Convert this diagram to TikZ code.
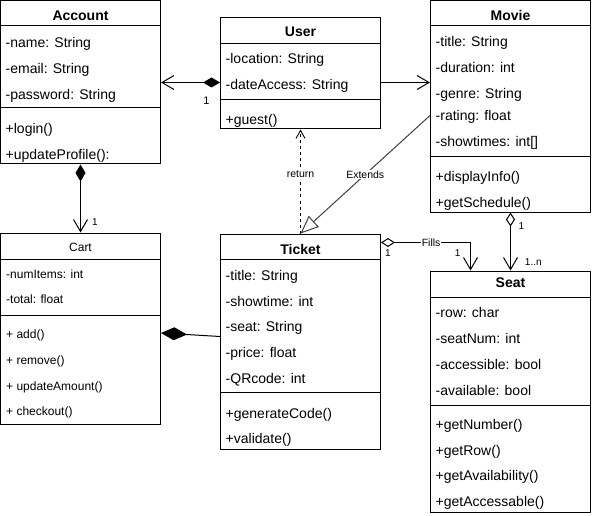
\documentclass[tikz,border=0pt]{standalone}
\usepackage{fontspec}
\setmainfont{Liberation Sans}
\usetikzlibrary{arrows.meta, positioning}
\tikzset{
  % Class styles
  classbox/.style={rectangle, draw=black, line width=1pt, fill=white, minimum width=160pt, inner sep=0pt},
  classname/.style={font=\fontsize{14}{16}\selectfont\bfseries, anchor=base, inner sep=0pt},
  member/.style={font=\fontsize{14}{16}\selectfont, anchor=base west, inner sep=0pt},
  cartname/.style={font=\fontsize{12}{14}\selectfont, anchor=base, inner sep=0pt},
  cartmember/.style={font=\fontsize{12}{14}\selectfont, anchor=base west, inner sep=0pt},
  divider/.style={line width=1pt},
  % Connector styles
  assoc/.style={line width=1pt, -{Straight Barb[length=12pt, width=14pt]}},
  composition/.style={line width=1pt, {Diamond[length=17pt, width=10pt]}-{Straight Barb[length=12pt, width=14pt]}},
  bigcomposition/.style={line width=1pt, {Diamond[length=26pt, width=13pt]}-},
  aggregation/.style={line width=1pt, {Diamond[length=14pt, width=9pt, fill=white]}-{Straight Barb[length=12pt, width=14pt]}},
  generalization/.style={line width=1pt, -{Triangle[length=18pt, width=15pt, fill=white]}},
  dependency/.style={line width=0.9pt, dash pattern=on 3pt off 3pt, -{Straight Barb[length=8pt, width=9pt]}},
  % Label styles
  mult/.style={font=\fontsize{10}{12}\selectfont, inner sep=0pt},
  edgelabel/.style={font=\fontsize{10.5}{12}\selectfont, fill=white, inner sep=1pt}
}
\begin{document}
\begin{tikzpicture}[x=1pt, y=-1pt]
  \useasboundingbox (0,0) rectangle (592,516);

  % Account
  \node[classbox, minimum height=163] (account) at (80.5,82.5) {};
  \node[classname] (accounttitle) at (80.5,21) {Account};
  \draw[divider] (account.west |- 0,26) -- (account.east |- 0,26);
  \draw[divider] (account.west |- 0,108) -- (account.east |- 0,108);
  \foreach \txt/\yy [count=\i] in {-name: String/47.3, -email: String/73.3, -password: String/99.3, +login()/133.3, +updateProfile():/159.3}
    \node[member] (account-\i) at (5.5,\yy) {\txt};

  % User
  \node[classbox, minimum height=111.5] (user) at (300.5,73.25) {};
  \node[classname] (usertitle) at (300.5,36.7) {User};
  \draw[divider] (user.west |- 0,43.3) -- (user.east |- 0,43.3);
  \draw[divider] (user.west |- 0,99.3) -- (user.east |- 0,99.3);
  \foreach \txt/\yy [count=\i] in {-location: String/63.3, -dateAccess: String/89.3, +guest()/125}
    \node[member] (user-\i) at (225.5,\yy) {\txt};

  % Movie
  \node[classbox, minimum height=211] (movie) at (510.5,106.5) {};
  \node[classname] (movietitle) at (510.5,20.7) {Movie};
  \draw[divider] (movie.west |- 0,26) -- (movie.east |- 0,26);
  \draw[divider] (movie.west |- 0,156.7) -- (movie.east |- 0,156.7);
  \foreach \txt/\yy [count=\i] in {-title: String/46.7, -duration: int/72.7, -genre: String/99, -rating: float/120.7, -showtimes: int[]/146.7, +displayInfo()/181.7, +getSchedule()/207.3}
    \node[member] (movie-\i) at (435.5,\yy) {\txt};

  % Cart
  \node[classbox, minimum height=191] (cart) at (80.5,328.5) {};
  \node[cartname] (carttitle) at (80.5,251.7) {Cart};
  \draw[divider] (cart.west |- 0,259) -- (cart.east |- 0,259);
  \draw[divider] (cart.west |- 0,315) -- (cart.east |- 0,315);
  \foreach \txt/\yy [count=\i] in {-numItems: int/278.3, -total: float/303.3, + add()/338.3, + remove()/364, + updateAmount()/390, + checkout()/415.7}
    \node[cartmember] (cart-\i) at (6,\yy) {\txt};

  % Ticket
  \node[classbox, minimum height=215] (ticket) at (300.5,341.5) {};
  \node[classname] (tickettitle) at (300.5,254.3) {Ticket};
  \draw[divider] (ticket.west |- 0,259) -- (ticket.east |- 0,259);
  \draw[divider] (ticket.west |- 0,392.7) -- (ticket.east |- 0,392.7);
  \foreach \txt/\yy [count=\i] in {-title: String/280, -showtime: int/306, -seat: String/331.7, -price: float/357.7, -QRcode: int/383.7, +generateCode()/418.3, +validate()/443.3}
    \node[member] (ticket-\i) at (225.5,\yy) {\txt};

  % Seat
  \node[classbox, minimum height=241] (seat) at (510.5,391.5) {};
  \node[classname] (seattitle) at (510.5,287.3) {Seat};
  \draw[divider] (seat.west |- 0,297.3) -- (seat.east |- 0,297.3);
  \draw[divider] (seat.west |- 0,405) -- (seat.east |- 0,405);
  \foreach \txt/\yy [count=\i] in {-row: char/317.3, -seatNum: int/343.3, -accessible: bool/369, -available: bool/395, +getNumber()/429, +getRow()/455, +getAvailability()/480.7, +getAccessable()/506.7}
    \node[member] (seat-\i) at (435.5,\yy) {\txt};

  % Connectors
  \draw[composition] (user.west |- account.east) -- (account.east);
  \draw[assoc] (user.east |- account.east) -- (movie.west |- account.east);
  \draw[dependency] (ticket.north) -- (user.south) node[edgelabel, pos=0.57] (returnlabel) {return};
  \draw[generalization, black!75] ([yshift=-9pt]movie.west) -- (ticket.north) node[edgelabel, text=black, midway] (extendslabel) {Extends};
  \draw[composition] (account.south) -- (cart.north);
  \draw[bigcomposition] ([yshift=-4.5pt]cart.east) -- ([yshift=5pt]ticket.west);
  \draw[aggregation] ([yshift=-9pt]ticket.north east) -| ([xshift=-40pt]seat.north) node[edgelabel, pos=0.28] (fillslabel) {Fills};
  \draw[aggregation] (movie.south) -- (seat.north);

  % Multiplicities
  \node[mult, font=\fontsize{11}{12}\selectfont] (multuser) at (206.5,100.3) {1};
  \node[mult] (multcart) at (95,222) {1};
  \node[mult] (multticket) at (388,253.3) {1};
  \node[mult] (multseatfill) at (457.7,253) {1};
  \node[mult] (multmovie) at (521.3,226.3) {1};
  \node[mult] (multseat) at (533.3,262.3) {1..n};
\end{tikzpicture}
\end{document}
